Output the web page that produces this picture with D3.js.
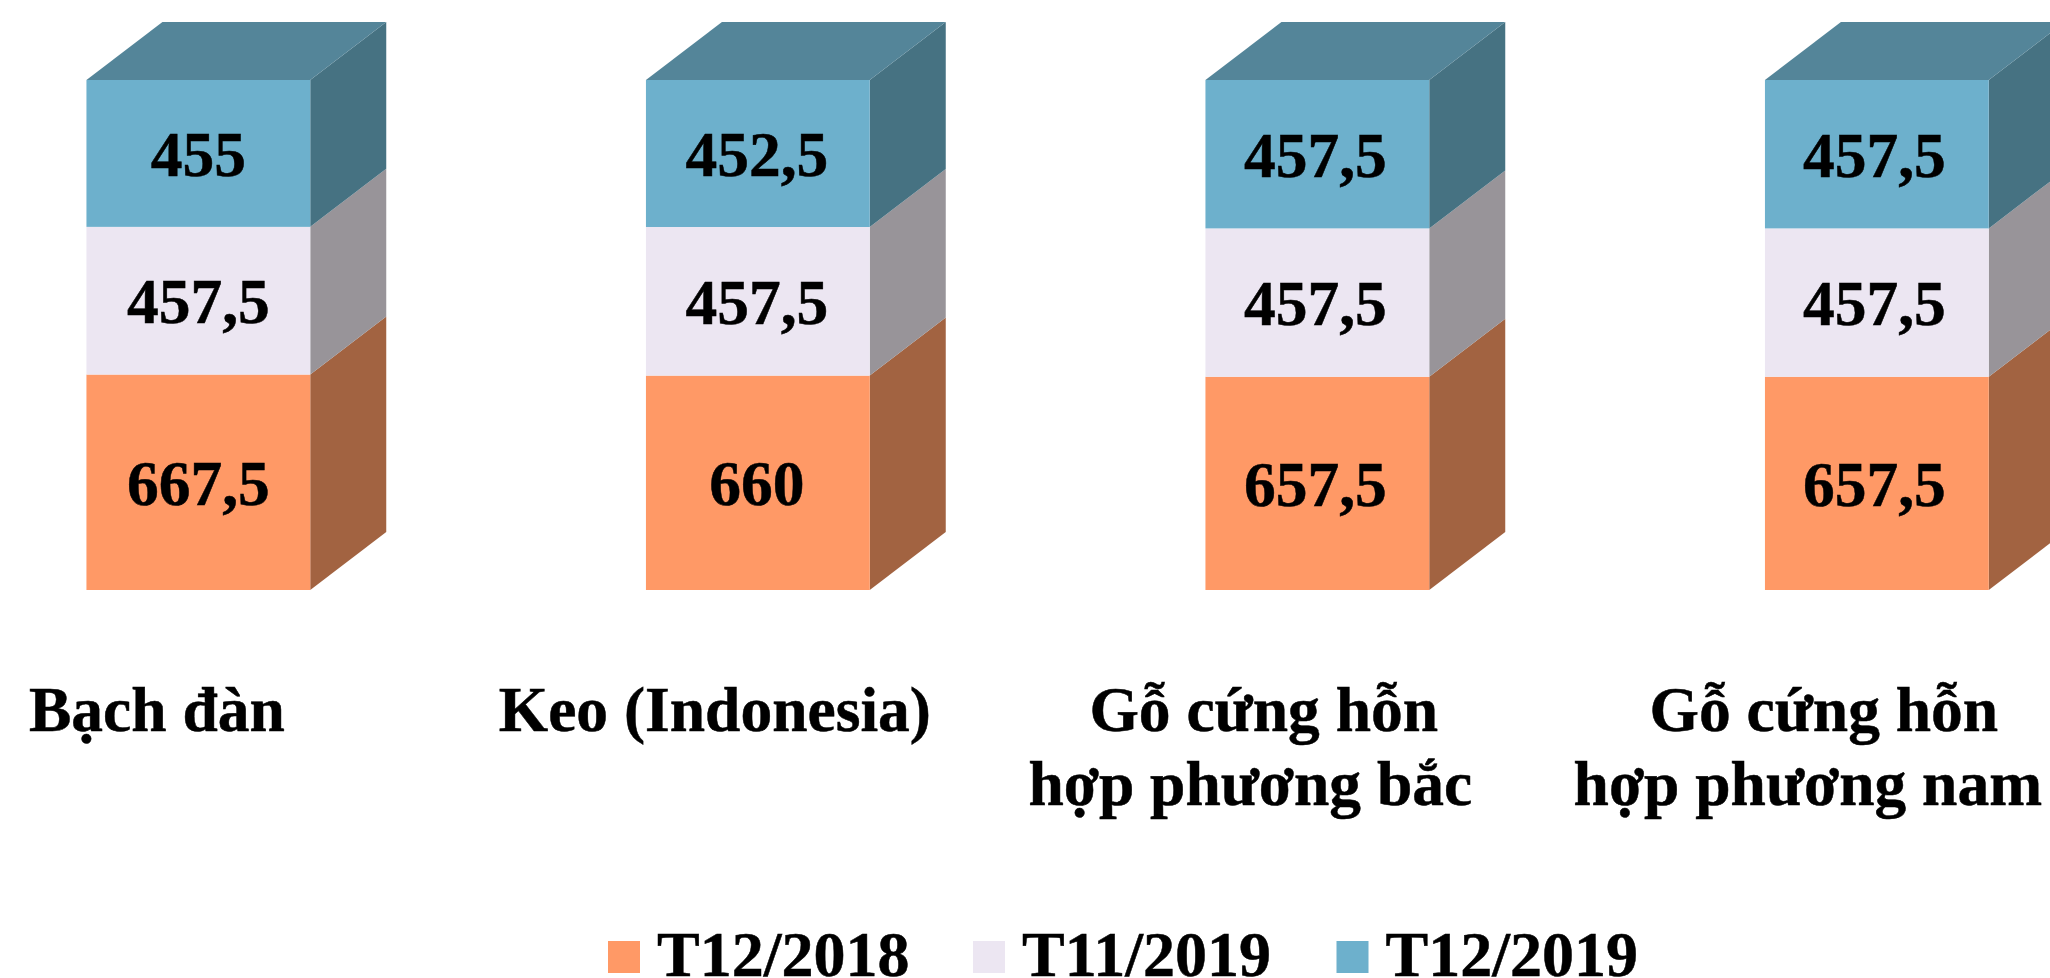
<!DOCTYPE html>
<html>
<head>
<meta charset="utf-8">
<script src="https://cdnjs.cloudflare.com/ajax/libs/d3/7.8.5/d3.min.js"></script>
<style>
html, body { margin: 0; padding: 0; background: #fff; overflow: hidden; }
text { font-family: "Liberation Serif", "Times New Roman", serif; font-weight: bold; fill: #000; stroke: #000; stroke-width: .5; }
</style>
</head>
<body>
<div id="viz"></div>
<script>
var categories = ['Bạch đàn', 'Keo (Indonesia)', 'Gỗ cứng hỗn hợp phương bắc', 'Gỗ cứng hỗn hợp phương nam'];
var seriesNames = ['T12/2018', 'T11/2019', 'T12/2019'];
var t122018 = [667.5, 660, 657.5, 657.5];
var t112019 = [457.5, 457.5, 457.5, 457.5];
var t122019 = [455, 452.5, 457.5, 457.5];
var categoryLines = [['Bạch đàn'], ['Keo (Indonesia)'], ['Gỗ cứng hỗn', 'hợp phương bắc'], ['Gỗ cứng hỗn', 'hợp phương nam']];

var width = 2050,
    height = 978,
    baseY = 590,
    topY = 80,
    depthX = 76,
    depthY = 58;

var front = ['#ff9966', '#ece6f2', '#6db0cc'],
    side = ['#a26341', '#989499', '#467282'],
    topColor = '#548599';

var rows = categories.map(function(c, i) {
    return {category: c, 'T12/2018': t122018[i], 'T11/2019': t112019[i], 'T12/2019': t122019[i]};
});

var stacked = d3.stack().keys(seriesNames).offset(d3.stackOffsetExpand)(rows);

var xScale = d3.scaleBand()
            .domain(categories)
            .range([-81.4, 2156.6])
            .paddingInner(.6)
            .paddingOuter(.3);

var yScale = d3.scaleLinear()
            .domain([0, 1])
            .range([baseY, topY]);

var svg = d3.select('#viz').append('svg')
    .attr('width', width)
    .attr('height', height)
    .style('display', 'block');

var layers = svg.selectAll('g.layer').data(stacked)
    .enter().append('g')
    .attr('class', 'layer');

// side face of each segment
layers.selectAll('path.side').data(function(d) { return d.map(function(p) { return {p: p, s: d.index}; }); })
    .enter().append('path')
    .attr('class', 'side')
    .attr('fill', function(d) { return side[d.s]; })
    .attr('d', function(d) {
        var x = xScale(d.p.data.category) + xScale.bandwidth();
        var y0 = yScale(d.p[0]), y1 = yScale(d.p[1]);
        return 'M' + x + ',' + y1 + 'L' + (x + depthX) + ',' + (y1 - depthY) +
               'L' + (x + depthX) + ',' + (y0 - depthY) + 'L' + x + ',' + y0 + 'Z';
    });

layers.selectAll('rect').data(function(d) { return d.map(function(p) { return {p: p, s: d.index}; }); })
    .enter().append('rect')
    .attr('fill', function(d) { return front[d.s]; })
    .attr('x', function(d) { return xScale(d.p.data.category); })
    .attr('width', xScale.bandwidth())
    .attr('y', function(d) { return yScale(d.p[1]); })
    .attr('height', function(d) { return yScale(d.p[0]) - yScale(d.p[1]); });

// top cap
svg.selectAll('path.cap').data(categories)
    .enter().append('path')
    .attr('class', 'cap')
    .attr('fill', topColor)
    .attr('d', function(d) {
        var x = xScale(d), w = xScale.bandwidth(), y = yScale(1);
        return 'M' + x + ',' + y + 'L' + (x + depthX) + ',' + (y - depthY) +
               'L' + (x + w + depthX) + ',' + (y - depthY) + 'L' + (x + w) + ',' + y + 'Z';
    });

// value labels
var valueShift = [0, -1, -2, -2.5];
layers.selectAll('text').data(function(d) {
        return d.map(function(p, i) { return {p: p, v: p.data[d.key], i: i}; });
    })
    .enter().append('text')
    .attr('text-anchor', 'middle')
    .attr('font-size', 63.5)
    .attr('x', function(d) { return xScale(d.p.data.category) + xScale.bandwidth() / 2 + valueShift[d.i]; })
    .attr('y', function(d) { return (yScale(d.p[0]) + yScale(d.p[1])) / 2 + 22.5; })
    .text(function(d) { return String(d.v).replace('.', ','); });

// category labels, the source has them a bit left of the bars
var labelShift = [[-41.5], [-43], [-53.6, -67], [-53, -69]];
var labels = svg.selectAll('text.cat').data(categoryLines)
    .enter().append('text')
    .attr('class', 'cat')
    .attr('font-size', 63.5)
    .attr('text-anchor', 'middle');

labels.selectAll('tspan').data(function(d, i) {
        return d.map(function(line, j) { return {line: line, cat: categories[i], shift: labelShift[i][j], j: j}; });
    })
    .enter().append('tspan')
    .attr('x', function(d) { return xScale(d.cat) + xScale.bandwidth() / 2 + d.shift; })
    .attr('y', function(d) { return 731 + d.j * 74; })
    .text(function(d) { return d.line; });

// legend
var legendX = [608, 973, 1336.5];
var legend = svg.selectAll('g.legend').data(seriesNames)
    .enter().append('g')
    .attr('class', 'legend')
    .attr('transform', function(d, i) { return 'translate(' + legendX[i] + ',0)'; });

legend.append('rect')
    .attr('y', 941)
    .attr('width', 32)
    .attr('height', 32)
    .attr('fill', function(d, i) { return front[i]; });

legend.append('text')
    .attr('x', 49)
    .attr('y', 976)
    .attr('font-size', 64)
    .text(function(d) { return d; });
</script>
</body>
</html>
